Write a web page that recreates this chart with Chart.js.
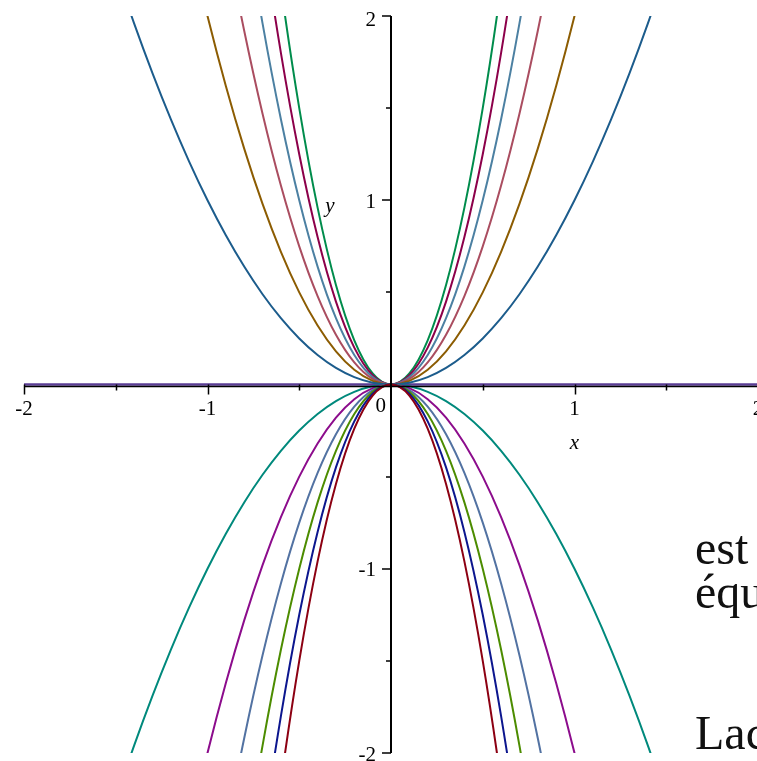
<!DOCTYPE html>
<html lang="fr">
<head>
<meta charset="utf-8">
<title>Paraboles y = k x²</title>
<script src="https://cdn.jsdelivr.net/npm/chart.js@4.4.1/dist/chart.umd.min.js"></script>
<style>
  html, body { margin: 0; padding: 0; background: #fff; overflow: hidden; }
  #wrap { position: relative; width: 757px; height: 761px; overflow: hidden; }
  #plot { position: absolute; left: 0; top: 0; }
  .txt {
    position: absolute; left: 695px;
    font-family: 'Liberation Serif', 'Times New Roman', serif;
    font-size: 48px; line-height: 48px; color: #111; white-space: nowrap;
  }
</style>
</head>
<body>
<div id="wrap">
  <canvas id="plot" width="760" height="761"></canvas>
  <div class="txt" style="top:524px">est</div>
  <div class="txt" style="top:568px">équ</div>
  <div class="txt" style="top:709px">Lac</div>
</div>

<script>
// sample abscissas shared by the parabolas
const xs = [-1.5, -1.4, -1.3, -1.2, -1.1, -1, -0.9, -0.8, -0.7, -0.6, -0.5, -0.4, -0.3, -0.2, -0.1, 0,
            0.1, 0.2, 0.3, 0.4, 0.5, 0.6, 0.7, 0.8, 0.9, 1, 1.1, 1.2, 1.3, 1.4, 1.5];

// upper family (opening upwards)
const up1 = [2.25, 1.96, 1.69, 1.44, 1.21, 1, 0.81, 0.64, 0.49, 0.36, 0.25, 0.16, 0.09, 0.04, 0.01, 0, 0.01, 0.04, 0.09, 0.16, 0.25, 0.36, 0.49, 0.64, 0.81, 1, 1.21, 1.44, 1.69, 1.96, 2.25];
const up2 = [4.5, 3.92, 3.38, 2.88, 2.42, 2, 1.62, 1.28, 0.98, 0.72, 0.5, 0.32, 0.18, 0.08, 0.02, 0, 0.02, 0.08, 0.18, 0.32, 0.5, 0.72, 0.98, 1.28, 1.62, 2, 2.42, 2.88, 3.38, 3.92, 4.5];
const up3 = [6.75, 5.88, 5.07, 4.32, 3.63, 3, 2.43, 1.92, 1.47, 1.08, 0.75, 0.48, 0.27, 0.12, 0.03, 0, 0.03, 0.12, 0.27, 0.48, 0.75, 1.08, 1.47, 1.92, 2.43, 3, 3.63, 4.32, 5.07, 5.88, 6.75];
const up4 = [9, 7.84, 6.76, 5.76, 4.84, 4, 3.24, 2.56, 1.96, 1.44, 1, 0.64, 0.36, 0.16, 0.04, 0, 0.04, 0.16, 0.36, 0.64, 1, 1.44, 1.96, 2.56, 3.24, 4, 4.84, 5.76, 6.76, 7.84, 9];
const up5 = [11.25, 9.8, 8.45, 7.2, 6.05, 5, 4.05, 3.2, 2.45, 1.8, 1.25, 0.8, 0.45, 0.2, 0.05, 0, 0.05, 0.2, 0.45, 0.8, 1.25, 1.8, 2.45, 3.2, 4.05, 5, 6.05, 7.2, 8.45, 9.8, 11.25];
const up6 = [13.5, 11.76, 10.14, 8.64, 7.26, 6, 4.86, 3.84, 2.94, 2.16, 1.5, 0.96, 0.54, 0.24, 0.06, 0, 0.06, 0.24, 0.54, 0.96, 1.5, 2.16, 2.94, 3.84, 4.86, 6, 7.26, 8.64, 10.14, 11.76, 13.5];

// lower family (opening downwards)
const down1 = [-2.25, -1.96, -1.69, -1.44, -1.21, -1, -0.81, -0.64, -0.49, -0.36, -0.25, -0.16, -0.09, -0.04, -0.01, 0, -0.01, -0.04, -0.09, -0.16, -0.25, -0.36, -0.49, -0.64, -0.81, -1, -1.21, -1.44, -1.69, -1.96, -2.25];
const down2 = [-4.5, -3.92, -3.38, -2.88, -2.42, -2, -1.62, -1.28, -0.98, -0.72, -0.5, -0.32, -0.18, -0.08, -0.02, 0, -0.02, -0.08, -0.18, -0.32, -0.5, -0.72, -0.98, -1.28, -1.62, -2, -2.42, -2.88, -3.38, -3.92, -4.5];
const down3 = [-6.75, -5.88, -5.07, -4.32, -3.63, -3, -2.43, -1.92, -1.47, -1.08, -0.75, -0.48, -0.27, -0.12, -0.03, 0, -0.03, -0.12, -0.27, -0.48, -0.75, -1.08, -1.47, -1.92, -2.43, -3, -3.63, -4.32, -5.07, -5.88, -6.75];
const down4 = [-9, -7.84, -6.76, -5.76, -4.84, -4, -3.24, -2.56, -1.96, -1.44, -1, -0.64, -0.36, -0.16, -0.04, 0, -0.04, -0.16, -0.36, -0.64, -1, -1.44, -1.96, -2.56, -3.24, -4, -4.84, -5.76, -6.76, -7.84, -9];
const down5 = [-11.25, -9.8, -8.45, -7.2, -6.05, -5, -4.05, -3.2, -2.45, -1.8, -1.25, -0.8, -0.45, -0.2, -0.05, 0, -0.05, -0.2, -0.45, -0.8, -1.25, -1.8, -2.45, -3.2, -4.05, -5, -6.05, -7.2, -8.45, -9.8, -11.25];
const down6 = [-13.5, -11.76, -10.14, -8.64, -7.26, -6, -4.86, -3.84, -2.94, -2.16, -1.5, -0.96, -0.54, -0.24, -0.06, 0, -0.06, -0.24, -0.54, -0.96, -1.5, -2.16, -2.94, -3.84, -4.86, -6, -7.26, -8.64, -10.14, -11.76, -13.5];

// the flat member of the family, lying on the x axis across the whole window
const flatXs = [-2, 2];
const flat = [0, 0];

// axis ticks and their labels
const xTickValues = [-2, -1, 0, 1, 2];
const xTickLabels = ['-2', '-1', '0', '1', '2'];
const yTickValues = [-2, -1, 1, 2];
const yTickLabels = ['-2', '-1', '1', '2'];
const minorTicks = [-1.5, -0.5, 0.5, 1.5];

const series = [down6, down5, down4, down3, down2, down1, up1, up2, up3, up4, up5, up6, flat];
const colors = ['#8c0012', '#0c168e', '#4c8c00', '#5272a2', '#8c0c8c', '#00897c',
                '#1c5c8c', '#8c5c02', '#aa4d60', '#4c80a2', '#8c004a', '#008c4c', '#5a3d94'];

const datasets = series.map((values, i) => {
    const sx = values === flat ? flatXs : xs;
    return {
        data: sx.map((x, j) => ({ x: x, y: values[j] })),
        borderColor: colors[i],
        borderWidth: values === flat ? 2.5 : 2,
        pointRadius: 0,
        fill: false,
        cubicInterpolationMode: 'monotone'
    };
});

// axes crossing at the origin, Maple style
const axesPlugin = {
    id: 'originAxes',
    afterDatasetsDraw(chart) {
        const { ctx, scales: { x, y } } = chart;
        const x0 = x.getPixelForValue(0);
        const y0 = y.getPixelForValue(0);

        ctx.save();
        ctx.strokeStyle = '#000';
        ctx.fillStyle = '#000';

        // x axis (just under the flat curve)
        ctx.lineWidth = 1.5;
        ctx.beginPath();
        ctx.moveTo(x.left, y0 + 2);
        ctx.lineTo(x.right, y0 + 2);
        ctx.stroke();

        // y axis
        ctx.lineWidth = 2;
        ctx.beginPath();
        ctx.moveTo(x0, y.top);
        ctx.lineTo(x0, y.bottom);
        ctx.stroke();

        ctx.lineWidth = 1.5;
        ctx.beginPath();
        xTickValues.forEach(v => {
            if (v === 0) return;
            const px = Math.round(x.getPixelForValue(v)) + 0.5;
            ctx.moveTo(px, y0);
            ctx.lineTo(px, y0 + 10);
        });
        yTickValues.forEach(v => {
            const py = Math.round(y.getPixelForValue(v));
            ctx.moveTo(x0 - 9, py);
            ctx.lineTo(x0, py);
        });
        minorTicks.forEach(v => {
            const px = Math.round(x.getPixelForValue(v)) + 0.5;
            ctx.moveTo(px, y0);
            ctx.lineTo(px, y0 + 6);
            const py = Math.round(y.getPixelForValue(v));
            ctx.moveTo(x0 - 5, py);
            ctx.lineTo(x0, py);
        });
        ctx.stroke();

        ctx.font = '21px "Liberation Serif", "Times New Roman", serif';
        ctx.textBaseline = 'top';
        xTickValues.forEach((v, i) => {
            if (v === 0) {
                ctx.textAlign = 'right';
                ctx.fillText(xTickLabels[i], x0 - 5, y0 + 11);
            } else {
                ctx.textAlign = 'center';
                ctx.fillText(xTickLabels[i], x.getPixelForValue(v), y0 + 14);
            }
        });
        ctx.textAlign = 'right';
        ctx.textBaseline = 'middle';
        yTickValues.forEach((v, i) => {
            const py = Math.max(y.getPixelForValue(v) + 2, 20);
            ctx.fillText(yTickLabels[i], x0 - 15, py);
        });

        // axis names
        ctx.font = 'italic 21px "Liberation Serif", "Times New Roman", serif';
        ctx.textAlign = 'center';
        ctx.fillText('x', x.getPixelForValue(1), y0 + 59);
        ctx.fillText('y', x0 - 61, y.getPixelForValue(1) + 6);
        ctx.restore();
    }
};

document.addEventListener('DOMContentLoaded', function() {
    const ctx = document.getElementById('plot').getContext('2d');
    new Chart(ctx, {
        type: 'line',
        data: { datasets: datasets },
        options: {
            responsive: false,
            animation: false,
            layout: { padding: { left: 24, top: 16, right: 2, bottom: 8 } },
            plugins: { legend: { display: false }, tooltip: { enabled: false } },
            scales: {
                x: { type: 'linear', min: -2, max: 2, display: false },
                y: { type: 'linear', min: -2, max: 2, display: false }
            }
        },
        plugins: [axesPlugin]
    });
});
</script>
</body>
</html>
